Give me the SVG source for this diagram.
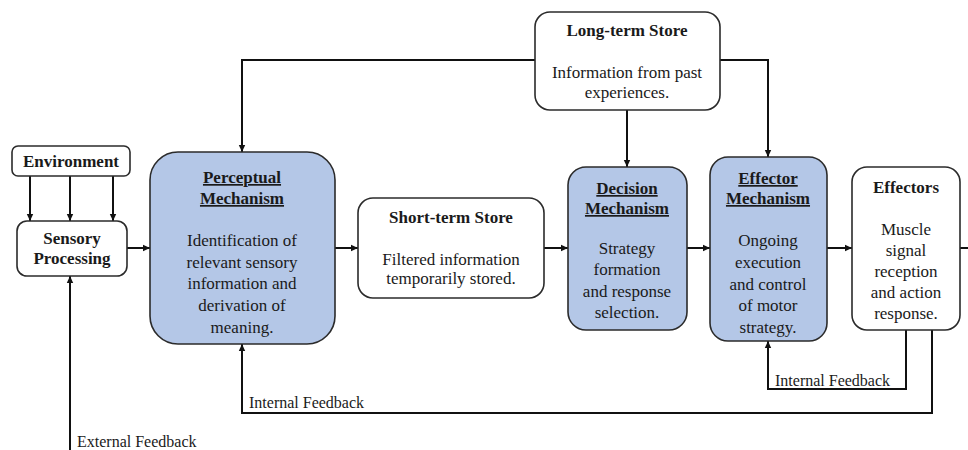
<svg xmlns="http://www.w3.org/2000/svg" width="968" height="450" viewBox="0 0 968 450" font-family="Liberation Serif, Tinos, Times New Roman, DejaVu Serif, serif">
<style>
.box{stroke:#2b2b2b;stroke-width:1.6;fill:#fff}
.blue{fill:#b4c7e7}
text{font-family:'Liberation Serif','Tinos','Times New Roman','DejaVu Serif',serif;font-size:17px;fill:#1a1a1a;text-anchor:middle}
.b{font-weight:bold}
.u{font-weight:bold;text-decoration:underline}
.lbl{font-size:16px;text-anchor:start}
.c{fill:none;stroke:#111;stroke-width:2}
</style>
<defs>
<marker id="ah" markerUnits="userSpaceOnUse" markerWidth="8" markerHeight="8" refX="7" refY="4" orient="auto">
<path d="M0,0.8 L7,4 L0,7.2 Z" fill="#111"/>
</marker>
</defs>
<g id="connectors">
<path class="c" d="M30 176 V221" marker-end="url(#ah)"/>
<path class="c" d="M70 176 V221" marker-end="url(#ah)"/>
<path class="c" d="M113 176 V221" marker-end="url(#ah)"/>
<path class="c" d="M127 248 H150" marker-end="url(#ah)"/>
<path class="c" d="M335 248 H358" marker-end="url(#ah)"/>
<path class="c" d="M544 248 H568" marker-end="url(#ah)"/>
<path class="c" d="M687 248 H710" marker-end="url(#ah)"/>
<path class="c" d="M827 248 H852" marker-end="url(#ah)"/>
<path class="c" d="M960 248 H968"/>
<path class="c" d="M535 60 H242 V152" marker-end="url(#ah)"/>
<path class="c" d="M720 60 H768 V157" marker-end="url(#ah)"/>
<path class="c" d="M627 110 V167" marker-end="url(#ah)"/>
<path class="c" d="M906 330 V389 H768 V341" marker-end="url(#ah)"/>
<path class="c" d="M932 330 V413 H242 V344" marker-end="url(#ah)"/>
<path class="c" d="M70 450 V276" marker-end="url(#ah)"/>
<text class="lbl" x="775" y="386">Internal Feedback</text>
<text class="lbl" x="249" y="408">Internal Feedback</text>
<text class="lbl" x="77" y="447">External Feedback</text>
</g>
<g id="environment">
<rect class="box" x="12" y="146" width="118" height="30" rx="6"/>
<text class="b" x="71" y="167">Environment</text>
</g>
<g id="sensory-processing">
<rect class="box" x="17" y="221" width="110" height="55" rx="10"/>
<text class="b" x="72" y="244">Sensory</text>
<text class="b" x="72" y="264">Processing</text>
</g>
<g id="perceptual-mechanism">
<rect class="box blue" x="150" y="152" width="185" height="192" rx="28"/>
<text class="u" x="242" y="183">Perceptual</text>
<text class="u" x="242" y="204">Mechanism</text>
<text x="242" y="246">Identification of</text>
<text x="242" y="268">relevant sensory</text>
<text x="242" y="289">information and</text>
<text x="242" y="311">derivation of</text>
<text x="242" y="333">meaning.</text>
</g>
<g id="short-term-store">
<rect class="box" x="358" y="198" width="186" height="100" rx="15"/>
<text class="b" x="451" y="223">Short-term Store</text>
<text x="451" y="265">Filtered information</text>
<text x="451" y="284">temporarily stored.</text>
</g>
<g id="long-term-store">
<rect class="box" x="535" y="12" width="185" height="98" rx="15"/>
<text class="b" x="627" y="36">Long-term Store</text>
<text x="627" y="78">Information from past</text>
<text x="627" y="98">experiences.</text>
</g>
<g id="decision-mechanism">
<rect class="box blue" x="568" y="167" width="119" height="163" rx="18"/>
<text class="u" x="627" y="194">Decision</text>
<text class="u" x="627" y="214">Mechanism</text>
<text x="627" y="254">Strategy</text>
<text x="627" y="275">formation</text>
<text x="627" y="297">and response</text>
<text x="627" y="318">selection.</text>
</g>
<g id="effector-mechanism">
<rect class="box blue" x="710" y="157" width="117" height="184" rx="18"/>
<text class="u" x="768" y="184">Effector</text>
<text class="u" x="768" y="204">Mechanism</text>
<text x="768" y="246">Ongoing</text>
<text x="768" y="268">execution</text>
<text x="768" y="290">and control</text>
<text x="768" y="311">of motor</text>
<text x="768" y="333">strategy.</text>
</g>
<g id="effectors">
<rect class="box" x="852" y="167" width="108" height="163" rx="15"/>
<text class="b" x="906" y="193">Effectors</text>
<text x="906" y="235">Muscle</text>
<text x="906" y="256">signal</text>
<text x="906" y="277">reception</text>
<text x="906" y="298">and action</text>
<text x="906" y="319">response.</text>
</g>
</svg>
